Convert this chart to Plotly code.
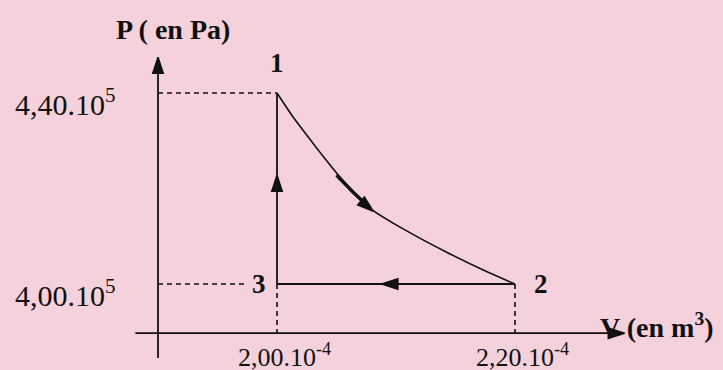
import plotly.graph_objects as go

# ---- data (V in 1e-4 m^3, P in 1e5 Pa) ----
state_names = ["1", "2", "3"]
V_states = [2.00, 2.20, 2.00]
P_states = [4.40, 4.00, 4.00]

# expansion curve 1 -> 2
V_curve = [2.000, 2.014, 2.028, 2.053, 2.078, 2.112, 2.143, 2.177, 2.200]
P_curve = [4.400, 4.348, 4.302, 4.224, 4.159, 4.107, 4.066, 4.025, 4.000]

V_ticks = [2.00, 2.20]
V_tick_labels = ["2,00.10<sup>-4</sup>", "2,20.10<sup>-4</sup>"]
P_ticks = [4.40, 4.00]
P_tick_labels = ["4,40.10<sup>5</sup>", "4,00.10<sup>5</sup>"]

V_origin = 1.90
P_origin = 3.897
V_axis_end = 2.292
P_axis_end = 4.475
V_axis_start = 1.881
P_axis_start = 3.845

# direction arrows on the cycle (position on path)
V_arrows = [2.00, 2.081, 2.088]
P_arrows = [4.228, 4.152, 4.00]
arrow_angles = [0, 130, 270]
# bold shaft before the curve arrow
V_shaft = [2.050, 2.064, 2.078]
P_shaft = [4.228, 4.192, 4.159]

BG = "#F5D2DB"
INK = "#111111"
SERIF = "Liberation Serif"

fig = go.Figure()

ARROW_MARK = dict(symbol="arrow", size=17, color=INK, line=dict(width=1.5, color=INK))

# axes
fig.add_trace(go.Scatter(x=[V_axis_start, V_axis_end], y=[P_origin, P_origin], mode="lines",
                         line=dict(color=INK, width=1.8), hoverinfo="skip"))
fig.add_trace(go.Scatter(x=[V_origin, V_origin], y=[P_axis_start, P_axis_end], mode="lines",
                         line=dict(color=INK, width=1.8), hoverinfo="skip"))
fig.add_trace(go.Scatter(x=[V_axis_end, V_origin], y=[P_origin, P_axis_end], mode="markers",
                         marker=dict(angle=[90, 0], **ARROW_MARK), hoverinfo="skip"))

# dashed guides
dash = dict(color=INK, width=1.6, dash="5px,4px")
fig.add_trace(go.Scatter(x=[V_origin, V_states[0]], y=[P_states[0], P_states[0]], mode="lines",
                         line=dash, hoverinfo="skip"))
fig.add_trace(go.Scatter(x=[V_origin, V_states[2] - 0.025], y=[P_states[2], P_states[2]], mode="lines",
                         line=dash, hoverinfo="skip"))
fig.add_trace(go.Scatter(x=[V_states[2], V_states[2]], y=[P_states[2], P_origin], mode="lines",
                         line=dash, hoverinfo="skip"))
fig.add_trace(go.Scatter(x=[V_states[1], V_states[1]], y=[P_states[1], P_origin], mode="lines",
                         line=dash, hoverinfo="skip"))

# cycle
fig.add_trace(go.Scatter(x=[V_states[2], V_states[0]], y=[P_states[2], P_states[0]], mode="lines",
                         line=dict(color=INK, width=1.8), hoverinfo="skip"))
fig.add_trace(go.Scatter(x=V_curve, y=P_curve, mode="lines",
                         line=dict(color=INK, width=1.6, shape="spline", smoothing=0.8), hoverinfo="skip"))
fig.add_trace(go.Scatter(x=[V_states[1], V_states[2]], y=[P_states[1], P_states[2]], mode="lines",
                         line=dict(color=INK, width=1.8), hoverinfo="skip"))
fig.add_trace(go.Scatter(x=V_shaft, y=P_shaft, mode="lines",
                         line=dict(color=INK, width=3.5), hoverinfo="skip"))
fig.add_trace(go.Scatter(x=V_arrows, y=P_arrows, mode="markers",
                         marker=dict(angle=arrow_angles, **ARROW_MARK), hoverinfo="skip"))

ann = []
for v, t in zip(V_ticks, V_tick_labels):
    ann.append(dict(x=v, y=P_origin, xref="x", yref="y", text=t, showarrow=False,
                    xanchor="center", yanchor="top", yshift=-4, xshift=7,
                    font=dict(family=SERIF, size=26, color=INK)))
for p, t in zip(P_ticks, P_tick_labels):
    ann.append(dict(x=V_origin, y=p, xref="x", yref="y", text=t, showarrow=False,
                    xanchor="right", yanchor="middle", xshift=-40, yshift=-9,
                    font=dict(family=SERIF, size=30, color=INK)))
# state labels
offsets = [(0, 30), (26, 0), (-18, 0)]
for name, v, p, (dx, dy) in zip(state_names, V_states, P_states, offsets):
    ann.append(dict(x=v, y=p, xref="x", yref="y", text="<b>" + name + "</b>", showarrow=False,
                    xanchor="center", yanchor="middle", xshift=dx, yshift=dy,
                    font=dict(family=SERIF, size=27, color=INK)))
# axis titles
ann.append(dict(x=V_origin, y=P_axis_end, xref="x", yref="y", text="<b>P ( en Pa)</b>",
                showarrow=False, xanchor="center", yanchor="bottom", xshift=15, yshift=10,
                font=dict(family=SERIF, size=28, color=INK)))
ann.append(dict(x=V_axis_end, y=P_origin, xref="x", yref="y", text="<b>V (en m<sup>3</sup>)</b>",
                showarrow=False, xanchor="left", yanchor="middle", xshift=-26, yshift=8,
                font=dict(family=SERIF, size=28, color=INK)))

fig.update_layout(
    width=723, height=370,
    margin=dict(l=0, r=0, t=0, b=0),
    paper_bgcolor=BG, plot_bgcolor=BG,
    showlegend=False,
    xaxis=dict(range=[1.76723, 2.37479], visible=False, fixedrange=True),
    yaxis=dict(range=[3.81990, 4.59476], visible=False, fixedrange=True),
    annotations=ann,
)

fig.write_html("out.html")
